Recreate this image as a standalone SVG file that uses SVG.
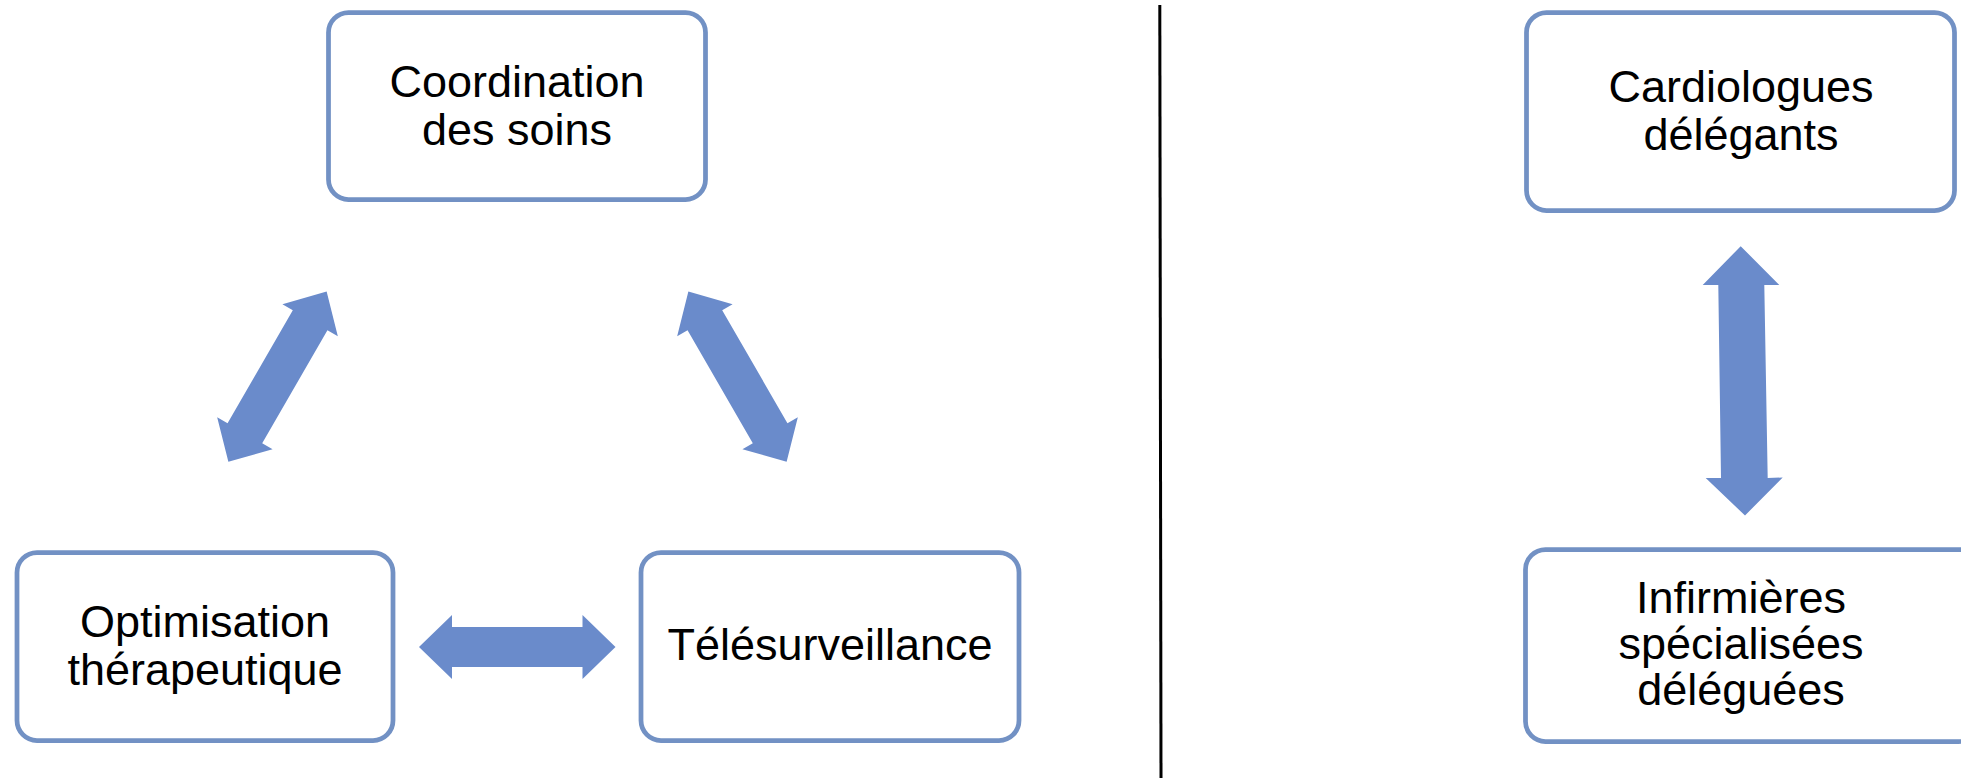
<svg xmlns="http://www.w3.org/2000/svg" width="1961" height="778" viewBox="0 0 1961 778">
  <style>
    .box { fill: #ffffff; stroke: #7291C4; stroke-width: 4.75; }
    .lbl { font-family: "Liberation Sans", Arial, sans-serif; font-size: 45px; fill: #000000; text-anchor: middle; }
    .arr { fill: #6A8BCB; }
  </style>
  <defs>
    <polygon id="dblarrow" points="-98.25,0 -65.25,-32 -65.25,-20 65.25,-20 65.25,-32 98.25,0 65.25,32 65.25,20 -65.25,20 -65.25,32"/>
  </defs>
  <rect x="0" y="0" width="1961" height="778" fill="#ffffff"/>

  <g id="node-coordination">
    <rect class="box" x="328.5" y="12.5" width="377" height="187" rx="20" ry="20"/>
    <text class="lbl" x="517" y="97">Coordination</text>
    <text class="lbl" x="517" y="145">des soins</text>
  </g>

  <g id="node-optimisation">
    <rect class="box" x="17" y="552.5" width="376" height="188" rx="20" ry="20"/>
    <text class="lbl" x="205" y="637">Optimisation</text>
    <text class="lbl" x="205" y="685">thérapeutique</text>
  </g>

  <g id="node-telesurveillance">
    <rect class="box" x="641" y="552.5" width="378" height="188" rx="20" ry="20"/>
    <text class="lbl" x="830" y="660">Télésurveillance</text>
  </g>

  <g id="node-cardiologues">
    <rect class="box" x="1526.5" y="12.5" width="428" height="198" rx="20" ry="20"/>
    <text class="lbl" x="1741" y="102">Cardiologues</text>
    <text class="lbl" x="1741" y="150">délégants</text>
  </g>

  <g id="node-infirmieres">
    <rect class="box" x="1525.5" y="549.5" width="453" height="192" rx="20" ry="20"/>
    <text class="lbl" x="1741" y="613">Infirmières</text>
    <text class="lbl" x="1741" y="659">spécialisées</text>
    <text class="lbl" x="1741" y="705">déléguées</text>
  </g>

  <g id="connectors">
    <use class="arr" href="#dblarrow" transform="translate(277.5 376.7) rotate(-60)"/>
    <use class="arr" href="#dblarrow" transform="translate(737.5 376.7) rotate(60)"/>
    <use class="arr" href="#dblarrow" transform="translate(517.25 647)"/>
    <polygon class="arr" points="1740.7,246.2 1779.3,285 1764.3,285 1767.7,478 1782.7,477.5 1745,515.5 1705.7,478 1721,478 1718.3,285 1702.7,285"/>
    <line x1="1159.8" y1="5" x2="1161" y2="778" stroke="#000000" stroke-width="3"/>
  </g>
</svg>
